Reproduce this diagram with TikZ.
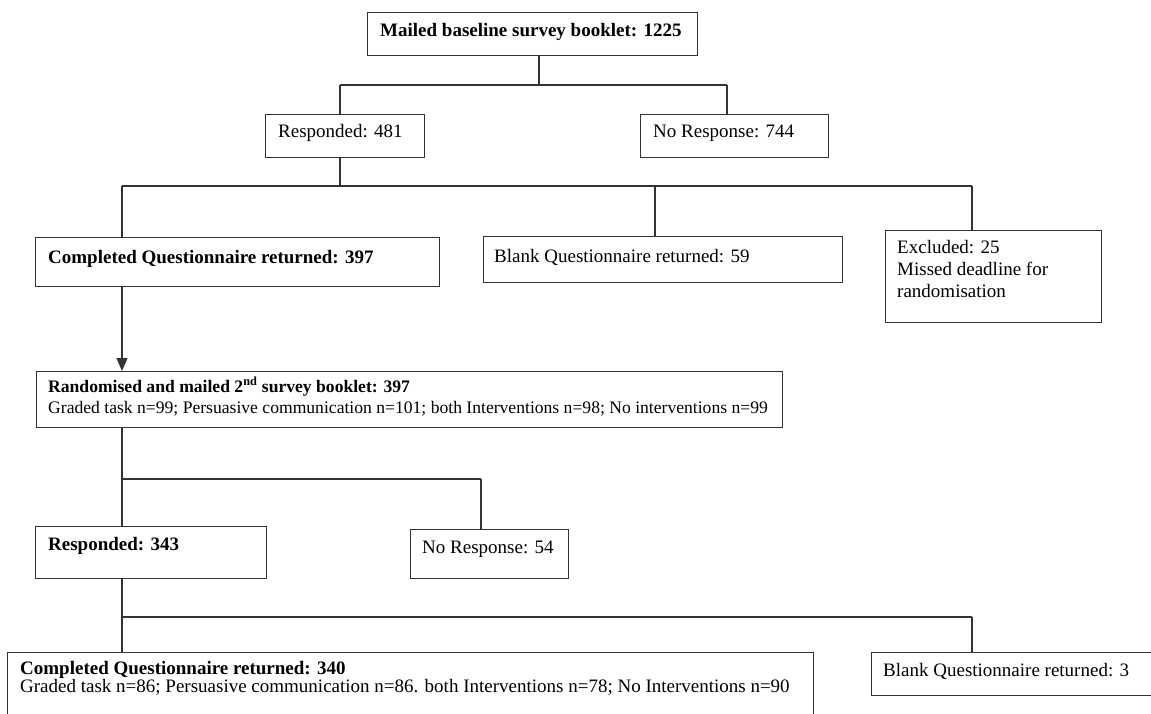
\documentclass[tikz,border=0pt]{standalone}
\usepackage{fontspec}
\setmainfont{Liberation Serif}
\usetikzlibrary{arrows.meta,calc}
\begin{document}
\begin{tikzpicture}[x=1pt,y=-1pt,
  box/.style={draw=black!80, line width=1.1pt, rectangle, inner sep=0pt, anchor=north west},
  txt/.style={inner sep=0pt, anchor=base west, font=\fontsize{19}{21}\selectfont},
  btxt/.style={inner sep=0pt, anchor=base west, font=\fontsize{19}{21}\selectfont\bfseries},
  stxt/.style={inner sep=0pt, anchor=base west, font=\fontsize{17.6}{20}\selectfont},
  sbtxt/.style={inner sep=0pt, anchor=base west, font=\fontsize{17.6}{20}\selectfont\bfseries},
  conn/.style={draw=black!80, line width=1.1pt},
  arr/.style={conn, -{Triangle[length=13pt,width=11pt]}}]
\useasboundingbox (0,0) rectangle (1151,714);
\clip (0,0) rectangle (1151,714);

% boxes
\node[box, minimum width=330pt, minimum height=43pt] (mailed) at (367,12) {};
\node[box, minimum width=159pt, minimum height=43pt] (resp1) at (265,114) {};
\node[box, minimum width=188pt, minimum height=43pt] (noresp1) at (640,114) {};
\node[box, minimum width=404pt, minimum height=49pt] (comp1) at (35,237) {};
\node[box, minimum width=359pt, minimum height=46pt] (blank1) at (483,236) {};
\node[box, minimum width=216pt, minimum height=92pt] (excl) at (885,230) {};
\node[box, minimum width=746pt, minimum height=56pt] (rand) at (36,371) {};
\node[box, minimum width=231pt, minimum height=52pt] (resp2) at (35,526) {};
\node[box, minimum width=158pt, minimum height=49pt] (noresp2) at (410,529) {};
\node[box, minimum width=806pt, minimum height=90pt] (comp2) at (7,652) {};
\node[box, minimum width=300pt, minimum height=43pt] (blank2) at (871,652) {};

% texts
\node[btxt] (mailed-t) at ($(mailed.north west)+(13,25)$) {Mailed baseline survey booklet: 1225};
\node[txt] (resp1-t) at ($(resp1.north west)+(13,24)$) {Responded: 481};
\node[txt] (noresp1-t) at ($(noresp1.north west)+(13,24)$) {No Response: 744};
\node[btxt] (comp1-t) at ($(comp1.north west)+(13,26)$) {Completed Questionnaire returned: 397};
\node[txt] (blank1-t) at ($(blank1.north west)+(11,26)$) {Blank Questionnaire returned: 59};
\node[txt] (excl-t1) at ($(excl.north west)+(12,23)$) {Excluded: 25};
\node[txt] (excl-t2) at ($(excl.north west)+(12,45)$) {Missed deadline for};
\node[txt] (excl-t3) at ($(excl.north west)+(12,67)$) {randomisation};
\node[sbtxt] (rand-t1) at ($(rand.north west)+(12,21)$) {Randomised and mailed 2\textsuperscript{nd} survey booklet: 397};
\node[stxt] (rand-t2) at ($(rand.north west)+(12,42)$) {Graded task n=99; Persuasive communication n=101; both Interventions n=98; No interventions n=99};
\node[btxt] (resp2-t) at ($(resp2.north west)+(13,24)$) {Responded: 343};
\node[txt] (noresp2-t) at ($(noresp2.north west)+(12,24)$) {No Response: 54};
\node[btxt] (comp2-t1) at ($(comp2.north west)+(13,22)$) {Completed Questionnaire returned: 340};
\node[txt] (comp2-t2) at ($(comp2.north west)+(13,40)$) {Graded task n=86; Persuasive communication n=86. both Interventions n=78; No Interventions n=90};
\node[txt] (blank2-t) at ($(blank2.north west)+(12,24)$) {Blank Questionnaire returned: 3};

% junction coordinates
\coordinate (jA) at (539,85);
\coordinate (jA1) at (340,85);
\coordinate (jA2) at (727,85);
\coordinate (jB) at (340,186);
\coordinate (jB1) at (122,186);
\coordinate (jB2) at (655,186);
\coordinate (jB3) at (972,186);
\coordinate (jC1) at (122,479);
\coordinate (jC2) at (481,479);
\coordinate (jD1) at (122,617);
\coordinate (jD2) at (972,617);

% connectors
\draw[conn] (mailed.south -| jA) -- (jA);
\draw[conn] (jA1) -- (jA2);
\draw[conn] (jA1) -- (jA1 |- resp1.north);
\draw[conn] (jA2) -- (jA2 |- noresp1.north);

\draw[conn] (resp1.south -| jB) -- (jB);
\draw[conn] (jB1) -- (jB3);
\draw[conn] (jB1) -- (jB1 |- comp1.north);
\draw[conn] (jB2) -- (jB2 |- blank1.north);
\draw[conn] (jB3) -- (jB3 |- excl.north);

\draw[arr] (comp1.south -| jB1) -- (rand.north -| jB1);

\draw[conn] (rand.south -| jC1) -- (resp2.north -| jC1);
\draw[conn] (jC1) -- (jC2);
\draw[conn] (jC2) -- (jC2 |- noresp2.north);

\draw[conn] (resp2.south -| jD1) -- (comp2.north -| jD1);
\draw[conn] (jD1) -- (jD2);
\draw[conn] (jD2) -- (jD2 |- blank2.north);
\end{tikzpicture}
\end{document}
